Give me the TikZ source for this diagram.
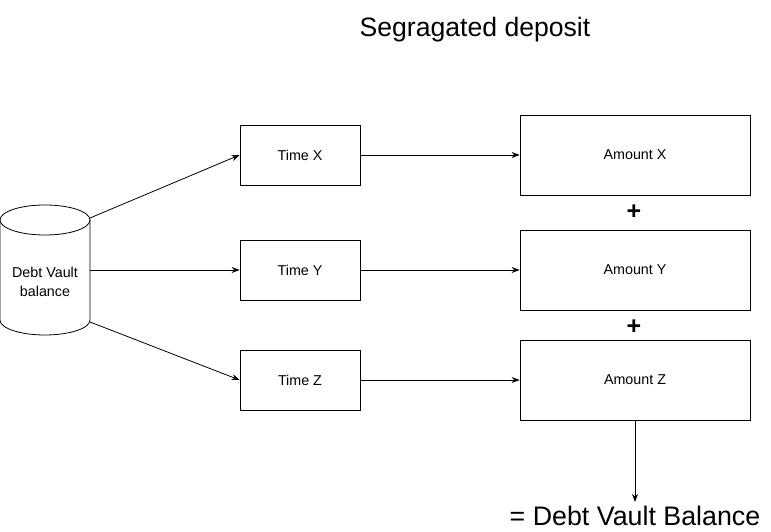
\documentclass[tikz,border=0pt]{standalone}
\usepackage{fontspec}
\setmainfont{Liberation Sans}
\usepackage{tikz}
\usetikzlibrary{arrows.meta,positioning}
\tikzstyle{arrow} = [line width=0.8pt,-{Stealth[length=8pt,width=6pt]},black]
\tikzstyle{timebox} = [draw, line width=0.8pt, minimum width=120pt, minimum height=60pt, font=\fontsize{14.3}{16}\selectfont]
\tikzstyle{amountbox} = [draw, line width=0.8pt, minimum width=230pt, minimum height=80pt, font=\fontsize{14.3}{16}\selectfont]
\tikzstyle{plus} = [font=\fontsize{25}{25}\selectfont\bfseries]

\begin{document}
\begin{tikzpicture}[x=1pt, y=1pt]
\useasboundingbox (0,0) rectangle (771,532);
% Title
\node (title) at (475,502) {\fontsize{26.6}{30}\selectfont Segragated deposit};

% Vault cylinder
\draw[line width=0.8pt] (0,312) -- (0,212) arc[start angle=180, end angle=360, x radius=45, y radius=15] -- (90,312);
\draw[line width=0.8pt] (45,312) ellipse [x radius=45, y radius=15];
\node[align=center, font=\fontsize{14.3}{19}\selectfont] (vault) at (45,250) {Debt Vault\\balance};
\coordinate (vaultX) at (90,314);
\coordinate (vaultY) at (90,262);
\coordinate (vaultZ) at (90,210);

% Times
\node[timebox] (timeX) at (300,377) {Time X};
\node[timebox] (timeY) at (300,262) {Time Y};
\node[timebox] (timeZ) at (300,152) {Time Z};

% Amounts
\node[amountbox] (amountX) at (635,377) {Amount X};
\node[amountbox] (amountY) at (635,262) {Amount Y};
\node[amountbox] (amountZ) at (635,152) {Amount Z};
\node[plus] (plusXY) at (634,320) {+};
\node[plus] (plusYZ) at (634,205) {+};

% Result
\node[inner sep=0pt, font=\fontsize{26.8}{30}\selectfont] (result) at (635,16) {= Debt Vault Balance};

% Arrows
\draw[arrow] (vaultX) -- (timeX.west);
\draw[arrow] (vaultY) -- (timeY.west);
\draw[arrow] (vaultZ) -- (timeZ.west);
\draw[arrow] (timeX) -- (amountX);
\draw[arrow] (timeY) -- (amountY);
\draw[arrow] (timeZ) -- (amountZ);
\draw[arrow, shorten >=4pt] (amountZ) -- (result);
\end{tikzpicture}
\end{document}
